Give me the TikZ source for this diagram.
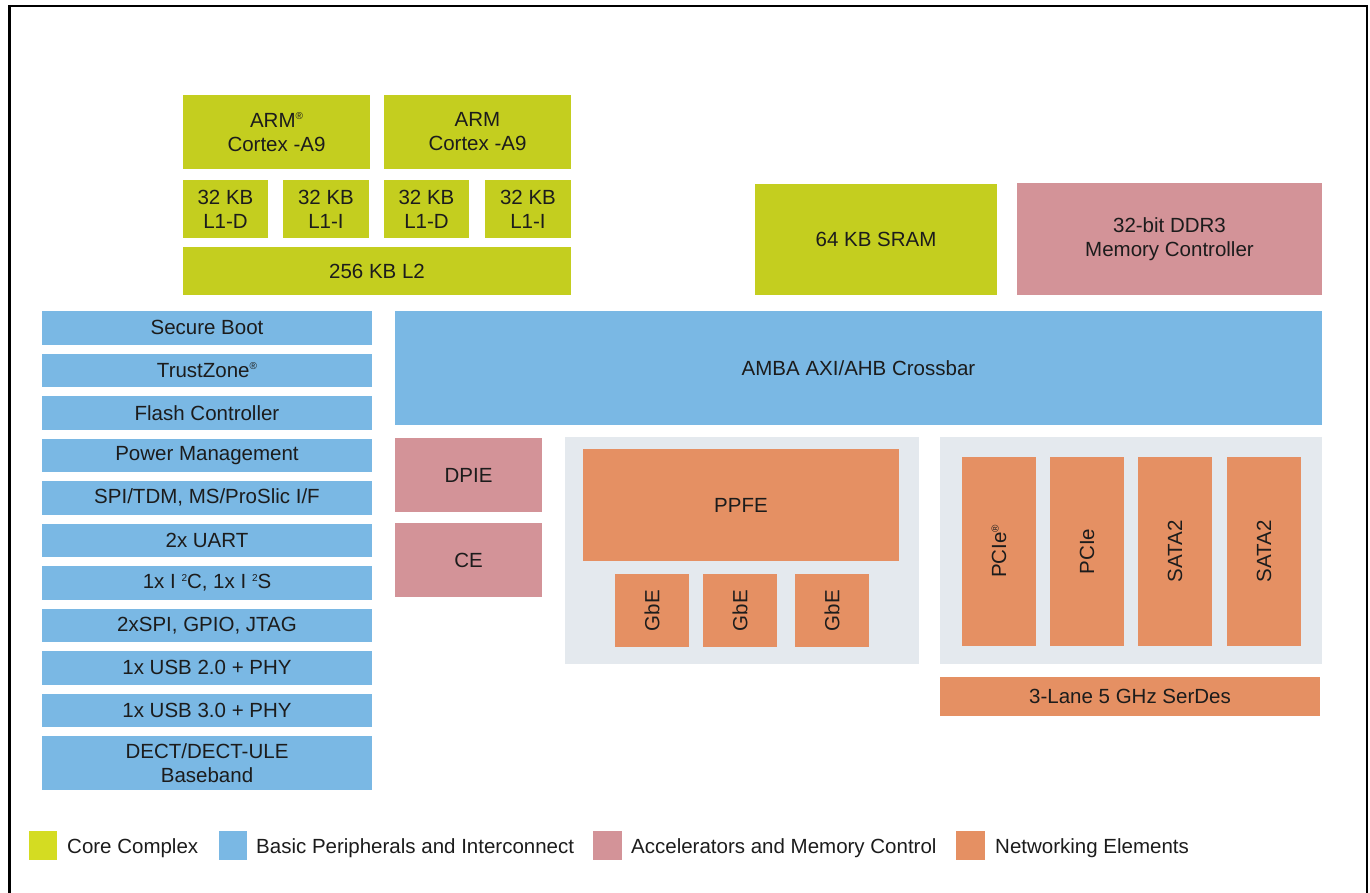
\documentclass[tikz,border=0pt]{standalone}
\usepackage{fontspec}
\setmainfont{Liberation Sans}
\usetikzlibrary{calc}
\definecolor{corecol}{RGB}{196,206,31}
\definecolor{legcore}{RGB}{212,220,34}
\definecolor{periphcol}{RGB}{122,184,228}
\definecolor{accelcol}{RGB}{211,147,152}
\definecolor{netcol}{RGB}{229,144,99}
\definecolor{groupcol}{RGB}{228,233,238}
\definecolor{txtcol}{RGB}{28,28,28}
\tikzset{
	txt/.style={align=center, text=txtcol, inner sep=0pt, font=\fontsize{20.5}{24}\selectfont},
	corebox/.style={fill=corecol},
	periphbox/.style={fill=periphcol},
	accelbox/.style={fill=accelcol},
	netbox/.style={fill=netcol},
	groupbox/.style={fill=groupcol}
}
\def\blk[#1](#2)(#3)#4#5{\fill[#1] (#2) rectangle (#3); \node[txt] (#4) at ($(#2)!0.5!(#3)$) {#5};}
\def\vblk[#1](#2)(#3)#4#5{\fill[#1] (#2) rectangle (#3); \node[txt, rotate=90] (#4) at ($(#2)!0.5!(#3)$) {#5};}
\def\smallsup#1{\raisebox{0.7ex}{\fontsize{10}{10}\selectfont #1}}

\begin{document}
\begin{tikzpicture}[x=1pt, y=-1pt]
		\useasboundingbox (0,0) rectangle (1370,893);
		%%%%% START %%%%%
		\draw[line width=2.5pt] (9.3,893) -- (9.3,6) -- (1367,6) -- (1367,893);
		
		% core complex
		\blk[corebox](183,95)(370,169){armzero}{ARM\smallsup{®}\\Cortex -A9}
		\blk[corebox](384,95)(571,169){armone}{ARM\\Cortex -A9}
		\blk[corebox](183,180)(268,238){lddzero}{32 KB\\L1-D}
		\blk[corebox](283,180)(369,238){ldizero}{32 KB\\L1-I}
		\blk[corebox](384,180)(469,238){lddone}{32 KB\\L1-D}
		\blk[corebox](485,180)(571,238){ldione}{32 KB\\L1-I}
		\blk[corebox](183,247)(571,295){ltwo}{256 KB L2}
		\blk[corebox](755,184)(997,295){sram}{64 KB SRAM}
		\blk[accelbox](1017,183)(1322,295){ddr}{32-bit DDR3\\Memory Controller}
		
		% interconnect
		\blk[periphbox](395,311)(1322,425){amba}{AMBA AXI/AHB Crossbar}
		
		% peripherals
		\blk[periphbox](42,311)(372,344.5){secboot}{Secure Boot}
		\blk[periphbox](42,353.5)(372,387){trustzone}{TrustZone\smallsup{®}}
		\blk[periphbox](42,396)(372,429.5){flash}{Flash Controller}
		\blk[periphbox](42,438.5)(372,472){power}{Power Management}
		\blk[periphbox](42,481)(372,514.5){spitdm}{SPI/TDM, MS/ProSlic I/F}
		\blk[periphbox](42,523.5)(372,557){uart}{2x UART}
		\blk[periphbox](42,566)(372,599.5){iic}{1x I \smallsup{2}C, 1x I \smallsup{2}S}
		\blk[periphbox](42,608.5)(372,642){gpio}{2xSPI, GPIO, JTAG}
		\blk[periphbox](42,651)(372,684.5){usbtwo}{1x USB 2.0 + PHY}
		\blk[periphbox](42,693.5)(372,727){usbthree}{1x USB 3.0 + PHY}
		\blk[periphbox](42,736)(372,790){dect}{DECT/DECT-ULE\\Baseband}
		
		% accelerators
		\blk[accelbox](395,438)(542,512){dpie}{DPIE}
		\blk[accelbox](395,523)(542,597){ce}{CE}
		
		% networking
		\fill[groupbox] (565,437) rectangle (919,664);
		\blk[netbox](583,449)(899,561){ppfe}{PPFE}
		\vblk[netbox](615,574)(689,647){gbezero}{GbE}
		\vblk[netbox](703,574)(777,647){gbeone}{GbE}
		\vblk[netbox](795,574)(869,647){gbetwo}{GbE}
		
		\fill[groupbox] (940,437) rectangle (1322,664);
		\vblk[netbox](962,457)(1036,646){pciezero}{PCIe\smallsup{®}}
		\vblk[netbox](1050,457)(1124,646){pcieone}{PCIe}
		\vblk[netbox](1138,457)(1212,646){satazero}{SATA2}
		\vblk[netbox](1227,457)(1301,646){sataone}{SATA2}
		\blk[netbox](940,677)(1320,716){serdes}{3-Lane 5 GHz SerDes}
		
		% legend
		\fill[legcore] (29,831) rectangle (57,860);
		\node[txt, anchor=base west] (lgcore) at (67,853) {Core Complex};
		\fill[periphbox] (219,831) rectangle (247,860);
		\node[txt, anchor=base west] (lgperiph) at (256,853) {Basic Peripherals and Interconnect};
		\fill[accelbox] (593,831) rectangle (622,860);
		\node[txt, anchor=base west] (lgaccel) at (631,853) {Accelerators and Memory Control};
		\fill[netbox] (956,831) rectangle (985,860);
		\node[txt, anchor=base west] (lgnet) at (995,853) {Networking Elements};
		%%%%% END %%%%%
	\end{tikzpicture}
\end{document}
